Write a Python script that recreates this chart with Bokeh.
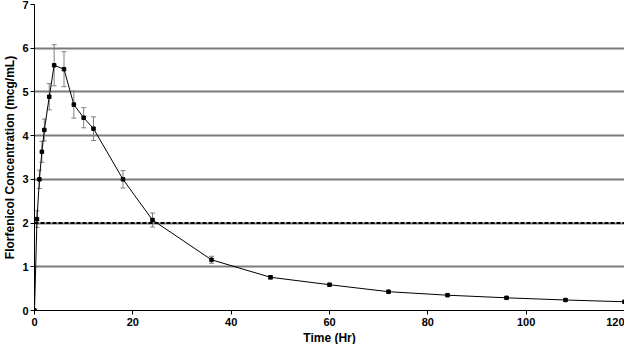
from bokeh.plotting import figure
from bokeh.models import Range1d, FixedTicker, Span, Whisker, ColumnDataSource, TeeHead, Title
from bokeh.embed import file_html
from bokeh.resources import INLINE

time_hr = [0, 0.5, 1, 1.5, 2, 3, 4, 6, 8, 10, 12, 18, 24, 36, 48, 60, 72, 84, 96, 108, 120]
conc = [0, 2.09, 3.0, 3.63, 4.13, 4.89, 5.61, 5.52, 4.71, 4.41, 4.16, 3.0, 2.07, 1.16, 0.76, 0.59, 0.43, 0.35, 0.29, 0.24, 0.2]
sd = [0, 0.19, 0.21, 0.24, 0.25, 0.3, 0.47, 0.4, 0.31, 0.23, 0.27, 0.2, 0.16, 0.08, 0.04, 0.03, 0.03, 0.02, 0.02, 0.02, 0.02]
x_ticks = [0, 20, 40, 60, 80, 100, 120]
y_ticks = [0, 1, 2, 3, 4, 5, 6, 7]
mic_level = 2

src = ColumnDataSource(dict(
    t=time_hr, c=conc,
    lo=[c - s for c, s in zip(conc, sd)],
    hi=[c + s for c, s in zip(conc, sd)],
))

p = figure(width=624, height=344, output_backend="svg", toolbar_location=None,
           x_range=Range1d(0, 120), y_range=Range1d(0, 7),
           min_border_left=0, min_border_right=0, min_border_top=4, min_border_bottom=0)
p.outline_line_color = None
p.background_fill_color = "white"

font = "Liberation Sans"
for ax in (p.xaxis[0], p.yaxis[0]):
    ax.axis_line_color = "black"
    ax.axis_line_width = 1
    ax.major_tick_line_color = "black"
    ax.major_tick_out = 4
    ax.major_tick_in = 0
    ax.minor_tick_line_color = None
    ax.major_label_text_font = font
    ax.major_label_text_font_style = "bold"
    ax.major_label_text_font_size = "11px"
    ax.major_label_text_color = "black"
    ax.axis_label_text_font = font
    ax.axis_label_text_font_style = "bold"
    ax.axis_label_text_font_size = "12px"
    ax.axis_label_text_color = "black"

p.xaxis.major_label_standoff = 3
p.yaxis.major_label_standoff = 2
p.yaxis.axis_label_standoff = 2

p.xaxis.ticker = FixedTicker(ticks=x_ticks)
p.yaxis.ticker = FixedTicker(ticks=y_ticks)
p.yaxis.axis_label = "Florfenicol Concentration (mcg/mL)"

p.add_layout(Title(text="Time (Hr)", align="center", text_font=font, text_font_style="bold",
                   text_font_size="12px", text_color="black", standoff=0, offset=0), "below")

p.xgrid.grid_line_color = None
p.ygrid.grid_line_color = "#7a7a7a"
p.ygrid.grid_line_width = 2

p.add_layout(Span(location=mic_level, dimension="width", line_color="black",
                  line_width=2, line_dash="4 2"))
p.add_layout(Span(location=120, dimension="height", line_color="black", line_width=1))

w = Whisker(base="t", lower="lo", upper="hi", source=src, line_color="#808080", line_width=1,
            upper_head=TeeHead(size=5, line_color="#808080", line_width=1),
            lower_head=TeeHead(size=5, line_color="#808080", line_width=1))
p.add_layout(w)

p.line("t", "c", source=src, line_color="black", line_width=1)
p.scatter("t", "c", source=src, marker="square", size=3.5, fill_color="black", line_color="black")

open("out.html", "w").write(file_html(p, INLINE))
